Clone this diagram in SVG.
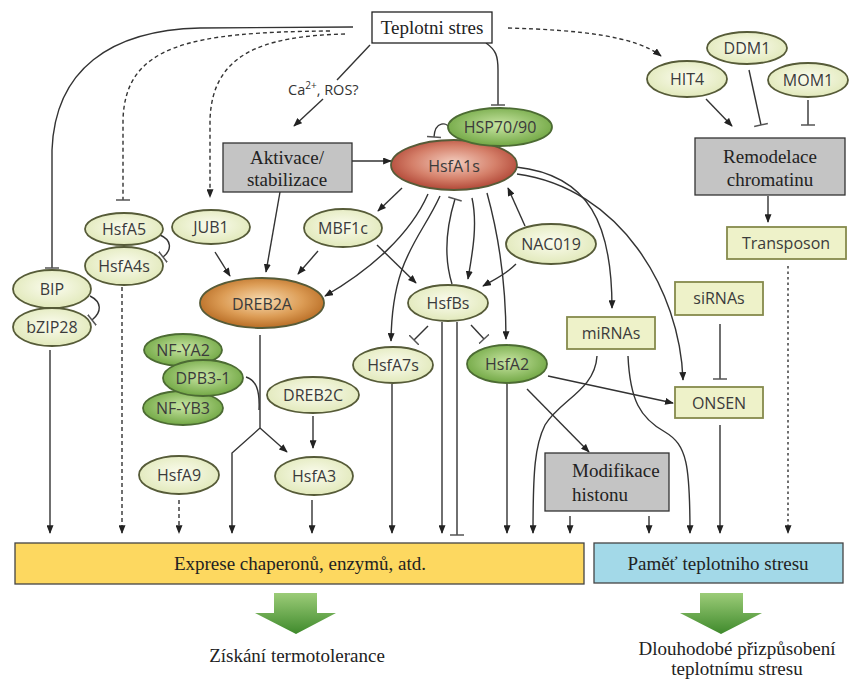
<svg xmlns="http://www.w3.org/2000/svg" width="849" height="679" viewBox="0 0 849 679">
<defs>
<radialGradient id="gLight" cx="50%" cy="45%" r="60%"><stop offset="0" stop-color="#fbfcef"/><stop offset="1" stop-color="#dfe7b6"/></radialGradient>
<radialGradient id="gGreen" cx="50%" cy="45%" r="60%"><stop offset="0" stop-color="#c9e6a4"/><stop offset="1" stop-color="#6aa23c"/></radialGradient>
<radialGradient id="gRed" cx="50%" cy="45%" r="60%"><stop offset="0" stop-color="#f3cdbf"/><stop offset="0.55" stop-color="#d5806a"/><stop offset="1" stop-color="#a93a2b"/></radialGradient>
<radialGradient id="gOrange" cx="50%" cy="45%" r="60%"><stop offset="0" stop-color="#f8dcb2"/><stop offset="0.55" stop-color="#dc9c55"/><stop offset="1" stop-color="#b0621a"/></radialGradient>
<linearGradient id="gArrow" x1="0" y1="0" x2="0" y2="1"><stop offset="0" stop-color="#9ccc78"/><stop offset="1" stop-color="#3f8a2c"/></linearGradient>
<marker id="arr" viewBox="0 0 10 8" refX="9" refY="4" markerWidth="9" markerHeight="7" markerUnits="userSpaceOnUse" orient="auto"><path d="M0,0 L10,4 L0,8 z" fill="#222"/></marker>
<marker id="tbar" viewBox="0 0 4 14" refX="2" refY="7" markerWidth="4" markerHeight="14" markerUnits="userSpaceOnUse" orient="auto"><path d="M2,0 L2,14" stroke="#555" stroke-width="1.5"/></marker>
</defs>
<style>
.n ellipse{stroke:#565b38;stroke-width:1.8}
.l ellipse{fill:url(#gLight)}
.g ellipse{fill:url(#gGreen);stroke:#4c6b33}
.bx rect{fill:#eef2c9;stroke:#858a4c;stroke-width:1.8}
.gr rect{fill:#c4c4c4;stroke:#333;stroke-width:1.3}
.t{font-family:"Open Sans","Liberation Sans",sans-serif;font-size:16px;fill:#3b3b3b;text-anchor:middle}
.s{font-family:"Liberation Serif","Times New Roman",serif;font-size:19px;fill:#222}
.sc{text-anchor:middle}
#connectors path{fill:none;stroke:#333;stroke-width:1.4}
#connectors .a{marker-end:url(#arr)}
#connectors .b{marker-end:url(#tbar)}
#connectors .d{stroke-dasharray:4 3}
#connectors .p{stroke-dasharray:2.5 3}
</style>
<rect width="849" height="679" fill="#fff"/>

<g id="connectors">
<path class="b" d="M353 27 L200 28 C110 30 55 70 52 150 L52 268"/>
<path class="b d" d="M330 31 C190 32 125 45 123 120 L123 200"/>
<path class="a d" d="M345 34 C260 36 212 55 210 120 L210 197"/>
<path d="M370 45 L337 80"/>
<path class="a" d="M323 99 L294 126"/>
<path class="b" d="M486 43 C496 50 498 56 498 70 L498 105"/>
<path class="a d" d="M508 28 C580 30 635 36 661 56"/>
<path class="a" d="M352 161 L391 161"/>
<path class="b" d="M451 130 C447 121 435 121 434 137"/>
<path class="a" d="M280 192 L266 272"/>
<path class="a" d="M215 252 L230 276"/>
<path class="a" d="M318 251 L298 274"/>
<path class="a" d="M402 188 L378 211"/>
<path class="a" d="M428 194 C410 235 370 270 325 296"/>
<path class="a" d="M440 196 C420 240 392 258 391 341"/>
<path class="b" d="M452 284 C443 255 447 225 455 199"/>
<path class="a" d="M472 198 C478 225 472 255 468 279"/>
<path class="a" d="M487 193 C500 240 506 290 506 339"/>
<path class="a" d="M377 245 L416 283"/>
<path class="a" d="M525 226 L508 188"/>
<path class="a" d="M516 264 C505 275 495 279 483 286"/>
<path class="b" d="M428 326 L414 340"/>
<path class="b" d="M471 325 L484 339"/>
<path class="a" d="M516 167 C590 175 612 225 612 308"/>
<path class="a" d="M517 174 C620 188 680 290 683 380"/>
<path class="a" d="M442 322 L442 533"/>
<path class="b" d="M457 322 L457 535"/>
<path class="a" d="M392 384 L392 533"/>
<path class="a" d="M507 384 L507 533"/>
<path class="a" d="M548 376 L673 403"/>
<path class="a" d="M527 389 L589 452"/>
<path class="a" d="M597 356 C595 390 560 400 545 425 C535 445 533 470 533 533"/>
<path class="a" d="M628 356 C630 400 640 418 665 432 C687 445 690 465 690 533"/>
<path class="a" d="M570 516 L570 533"/>
<path class="a" d="M649 516 L649 533"/>
<path class="a" d="M720 425 L720 533"/>
<path class="a p" d="M788 266 L788 533"/>
<path class="b" d="M720 324 L720 379"/>
<path class="a" d="M706 99 L732 126"/>
<path class="b" d="M749 70 L761 125"/>
<path class="b" d="M808 100 L808 125"/>
<path class="a" d="M768 196 L768 222"/>
<path class="a" d="M50 350 L50 533"/>
<path class="a d" d="M122 287 L122 533"/>
<path class="a d" d="M179 500 L179 533"/>
<path class="a" d="M260 335 L260 428 L232 453 L232 533"/>
<path class="a" d="M260 428 L287 452"/>
<path d="M246 377 C256 380 260 390 259 410"/>
<path class="a" d="M313 416 L313 448"/>
<path class="a" d="M312 500 L312 533"/>
<path class="b" d="M160 235 C172 240 172 250 163 257"/>
<path class="b" d="M90 296 C102 302 102 312 92 320"/>
</g>

<g id="teplotni-stres"><rect x="372" y="12" width="120" height="31" fill="#fff" stroke="#222" stroke-width="1.3"/><text class="s sc" x="432" y="34">Teplotni stres</text></g>
<g id="ca-ros"><text x="288" y="95" font-family="'Open Sans','Liberation Sans',sans-serif" font-size="14.5" fill="#333">Ca<tspan dy="-6" font-size="10">2+</tspan><tspan dy="6">, ROS?</tspan></text></g>

<g id="aktivace" class="gr"><rect x="223" y="143" width="129" height="49"/><text class="s sc" x="287" y="164">Aktivace/</text><text class="s sc" x="287" y="186">stabilizace</text></g>
<g id="hsfa1s" class="n"><ellipse cx="454" cy="165" rx="63" ry="25" fill="url(#gRed)" stroke="#7a3328"/><text class="t" x="454" y="172" font-size="19">HsfA1s</text></g>
<g id="hsp70" class="n g"><ellipse cx="500" cy="127" rx="52" ry="19"/><text class="t" x="500" y="133">HSP70/90</text></g>

<g id="hit4" class="n l"><ellipse cx="687" cy="79" rx="40" ry="18"/><text class="t" x="687" y="85">HIT4</text></g>
<g id="ddm1" class="n l"><ellipse cx="747" cy="48" rx="40" ry="16"/><text class="t" x="747" y="54">DDM1</text></g>
<g id="mom1" class="n l"><ellipse cx="808" cy="80" rx="40" ry="17"/><text class="t" x="808" y="86">MOM1</text></g>
<g id="remodelace" class="gr"><rect x="695" y="138" width="150" height="57"/><text class="s sc" x="770" y="163">Remodelace</text><text class="s sc" x="770" y="186">chromatinu</text></g>
<g id="transposon" class="bx"><rect x="727" y="227" width="119" height="32"/><text class="t" x="786" y="249">Transposon</text></g>

<g id="hsfa5" class="n l"><ellipse cx="124" cy="229" rx="39" ry="16"/><text class="t" x="124" y="235">HsfA5</text></g>
<g id="hsfa4s" class="n l"><ellipse cx="124" cy="266" rx="39" ry="19"/><text class="t" x="124" y="272">HsfA4s</text></g>
<g id="jub1" class="n l"><ellipse cx="211" cy="227" rx="39" ry="17"/><text class="t" x="211" y="233">JUB1</text></g>
<g id="bip" class="n l"><ellipse cx="52" cy="289" rx="39" ry="19"/><text class="t" x="52" y="295">BIP</text></g>
<g id="bzip28" class="n l"><ellipse cx="52" cy="327" rx="39" ry="19"/><text class="t" x="52" y="333">bZIP28</text></g>
<g id="mbf1c" class="n l"><ellipse cx="343" cy="228" rx="39" ry="19"/><text class="t" x="343" y="234">MBF1c</text></g>
<g id="nac019" class="n l"><ellipse cx="551" cy="244" rx="45" ry="20"/><text class="t" x="551" y="250">NAC019</text></g>
<g id="dreb2a" class="n"><ellipse cx="262" cy="303" rx="62" ry="25" fill="url(#gOrange)" stroke="#7a4a1c"/><text class="t" x="262" y="310" font-size="19">DREB2A</text></g>
<g id="hsfbs" class="n l"><ellipse cx="448" cy="303" rx="40" ry="18"/><text class="t" x="448" y="309">HsfBs</text></g>
<g id="mirnas" class="bx"><rect x="567" y="317" width="88" height="32"/><text class="t" x="611" y="339">miRNAs</text></g>
<g id="sirnas" class="bx"><rect x="675" y="282" width="88" height="33"/><text class="t" x="719" y="304">siRNAs</text></g>

<g id="nf-ya2" class="n g"><ellipse cx="183" cy="350" rx="39" ry="16"/><text class="t" x="183" y="356">NF-YA2</text></g>
<g id="nf-yb3" class="n g"><ellipse cx="183" cy="408" rx="40" ry="17"/><text class="t" x="183" y="414">NF-YB3</text></g>
<g id="dpb3-1" class="n g"><ellipse cx="203" cy="378" rx="40" ry="18"/><text class="t" x="203" y="384">DPB3-1</text></g>
<g id="hsfa7s" class="n l"><ellipse cx="393" cy="365" rx="40" ry="18"/><text class="t" x="393" y="371">HsfA7s</text></g>
<g id="hsfa2" class="n g"><ellipse cx="507" cy="364" rx="40" ry="19"/><text class="t" x="507" y="370">HsfA2</text></g>
<g id="onsen" class="bx"><rect x="675" y="387" width="88" height="31"/><text class="t" x="719" y="409">ONSEN</text></g>
<g id="dreb2c" class="n l"><ellipse cx="313" cy="395" rx="46" ry="18"/><text class="t" x="313" y="401">DREB2C</text></g>
<g id="hsfa9" class="n l"><ellipse cx="179" cy="475" rx="40" ry="19"/><text class="t" x="179" y="481">HsfA9</text></g>
<g id="hsfa3" class="n l"><ellipse cx="314" cy="476" rx="39" ry="19"/><text class="t" x="314" y="482">HsfA3</text></g>
<g id="modifikace" class="gr"><rect x="545" y="453" width="124" height="58"/><text class="s" x="572" y="477">Modifikace</text><text class="s" x="572" y="501">histonu</text></g>

<g id="exprese"><rect x="15" y="543" width="569" height="41" fill="#fdd860" stroke="#444" stroke-width="1.3"/><text class="s sc" x="300" y="570">Exprese chaperonů, enzymů, atd.</text></g>
<g id="pamet"><rect x="594" y="543" width="249" height="40" fill="#a3d9e8" stroke="#444" stroke-width="1.3"/><text class="s sc" x="718" y="570">Paměť teplotniho stresu</text></g>

<g id="arrow-left"><path d="M274 593 L317 593 L317 613 L336 613 L296 634 L255 613 L274 613 z" fill="url(#gArrow)"/></g>
<g id="arrow-right"><path d="M700 593 L743 593 L743 613 L762 613 L721 634 L680 613 L700 613 z" fill="url(#gArrow)"/></g>
<g id="ziskani"><text class="s sc" x="297" y="662">Získání termotolerance</text></g>
<g id="dlouhodobe"><text class="s sc" x="737" y="655">Dlouhodobé přizpůsobení</text><text class="s sc" x="737" y="675">teplotnímu stresu</text></g>
</svg>
